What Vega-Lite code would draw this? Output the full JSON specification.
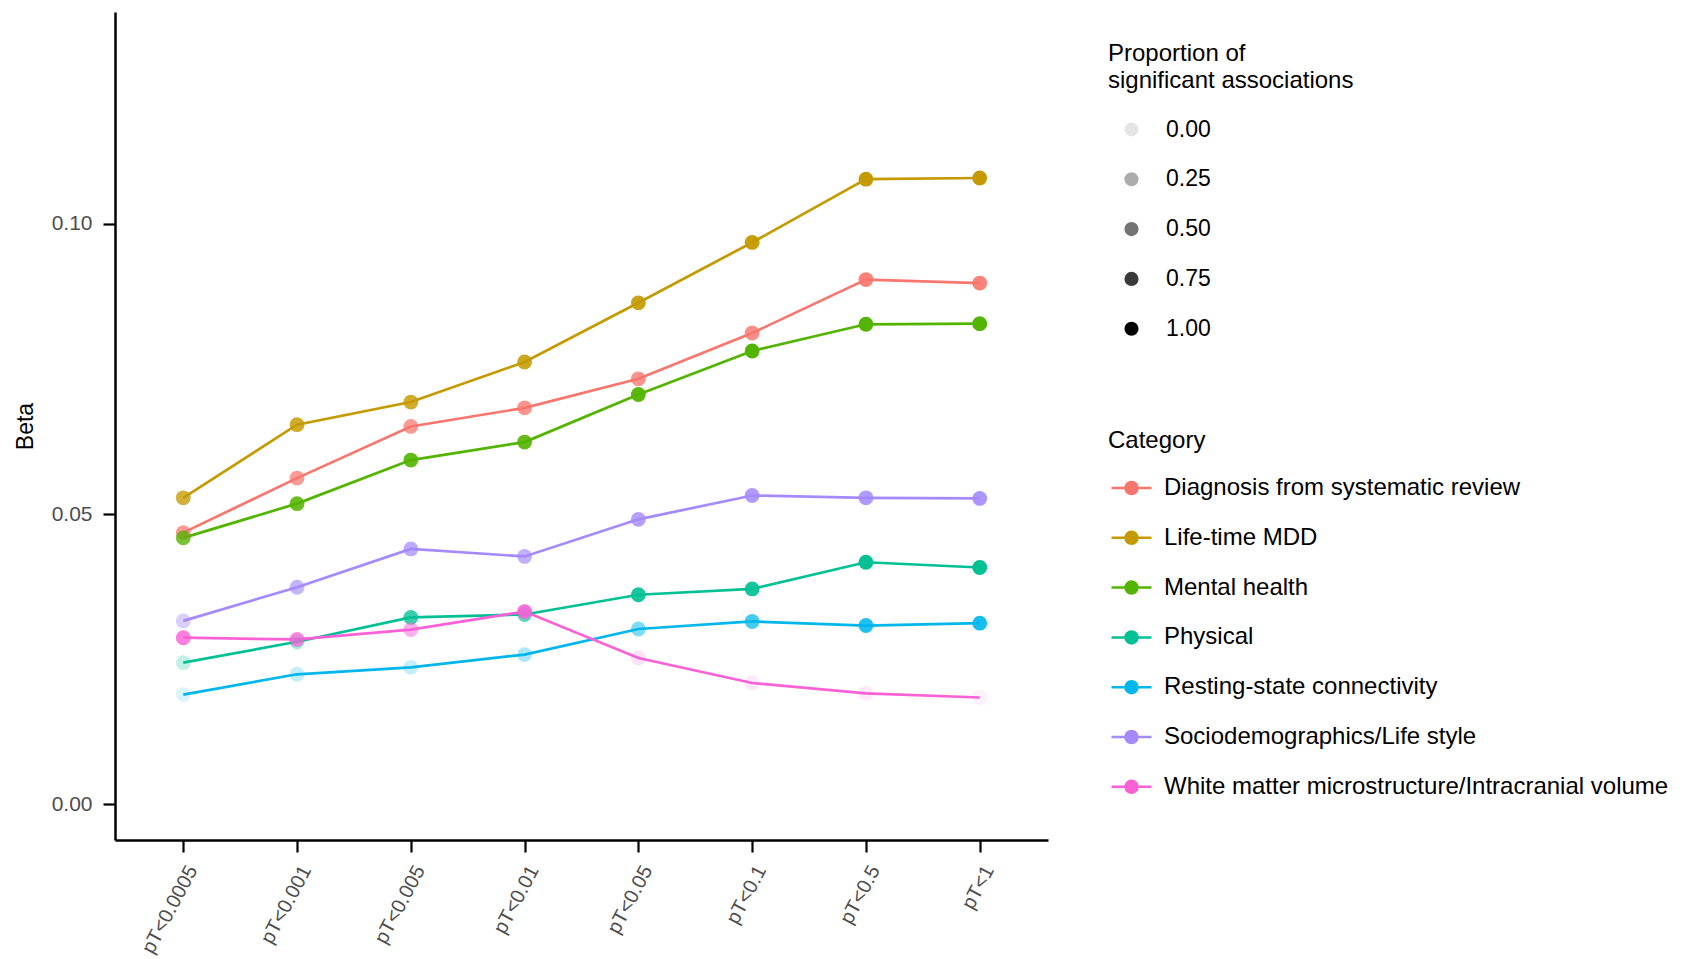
{
  "$schema": "https://vega.github.io/schema/vega-lite/v6.json",
  "autosize": {"type": "none"},
  "padding": {"left": 115, "top": 12, "right": 638, "bottom": 119},
  "width": 933,
  "height": 828,
  "background": "white",
  "config": {
    "view": {"stroke": null},
    "font": "Liberation Sans",
    "axis": {
      "grid": false,
      "domainColor": "black",
      "domainWidth": 2.5,
      "tickColor": "black",
      "tickWidth": 2.2,
      "tickSize": 12,
      "labelColor": "#4d4d4d",
      "labelFont": "Liberation Sans",
      "titleFont": "Liberation Sans",
      "titleFontWeight": "normal",
      "titleColor": "black"
    },
    "legend": {
      "padding": 0,
      "labelFont": "Liberation Sans",
      "titleFont": "Liberation Sans",
      "titleFontWeight": "normal",
      "titleColor": "black",
      "labelColor": "black",
      "labelFontSize": 24,
      "titleFontSize": 24,
      "labelLimit": 700,
      "titleLimit": 700
    }
  },
  "data": {
    "values": [
      {"pT": "pT<0.0005", "cat": "Diagnosis from systematic review", "beta": 0.0468, "prop": 0.7},
      {"pT": "pT<0.001", "cat": "Diagnosis from systematic review", "beta": 0.0562, "prop": 0.7},
      {"pT": "pT<0.005", "cat": "Diagnosis from systematic review", "beta": 0.0651, "prop": 0.7},
      {"pT": "pT<0.01", "cat": "Diagnosis from systematic review", "beta": 0.0683, "prop": 0.75},
      {"pT": "pT<0.05", "cat": "Diagnosis from systematic review", "beta": 0.0733, "prop": 0.75},
      {"pT": "pT<0.1", "cat": "Diagnosis from systematic review", "beta": 0.0812, "prop": 0.8},
      {"pT": "pT<0.5", "cat": "Diagnosis from systematic review", "beta": 0.0904, "prop": 0.9},
      {"pT": "pT<1", "cat": "Diagnosis from systematic review", "beta": 0.0898, "prop": 0.9},

      {"pT": "pT<0.0005", "cat": "Life-time MDD", "beta": 0.0528, "prop": 0.75},
      {"pT": "pT<0.001", "cat": "Life-time MDD", "beta": 0.0654, "prop": 0.8},
      {"pT": "pT<0.005", "cat": "Life-time MDD", "beta": 0.0693, "prop": 0.8},
      {"pT": "pT<0.01", "cat": "Life-time MDD", "beta": 0.0762, "prop": 0.85},
      {"pT": "pT<0.05", "cat": "Life-time MDD", "beta": 0.0864, "prop": 0.9},
      {"pT": "pT<0.1", "cat": "Life-time MDD", "beta": 0.0968, "prop": 0.95},
      {"pT": "pT<0.5", "cat": "Life-time MDD", "beta": 0.1077, "prop": 1.0},
      {"pT": "pT<1", "cat": "Life-time MDD", "beta": 0.1079, "prop": 1.0},

      {"pT": "pT<0.0005", "cat": "Mental health", "beta": 0.0459, "prop": 0.75},
      {"pT": "pT<0.001", "cat": "Mental health", "beta": 0.0518, "prop": 0.85},
      {"pT": "pT<0.005", "cat": "Mental health", "beta": 0.0593, "prop": 0.9},
      {"pT": "pT<0.01", "cat": "Mental health", "beta": 0.0624, "prop": 0.9},
      {"pT": "pT<0.05", "cat": "Mental health", "beta": 0.0706, "prop": 0.95},
      {"pT": "pT<0.1", "cat": "Mental health", "beta": 0.0781, "prop": 1.0},
      {"pT": "pT<0.5", "cat": "Mental health", "beta": 0.0827, "prop": 1.0},
      {"pT": "pT<1", "cat": "Mental health", "beta": 0.0828, "prop": 1.0},

      {"pT": "pT<0.0005", "cat": "Physical", "beta": 0.0244, "prop": 0.15},
      {"pT": "pT<0.001", "cat": "Physical", "beta": 0.0280, "prop": 0.3},
      {"pT": "pT<0.005", "cat": "Physical", "beta": 0.0322, "prop": 0.75},
      {"pT": "pT<0.01", "cat": "Physical", "beta": 0.0327, "prop": 0.6},
      {"pT": "pT<0.05", "cat": "Physical", "beta": 0.0361, "prop": 0.9},
      {"pT": "pT<0.1", "cat": "Physical", "beta": 0.0371, "prop": 0.9},
      {"pT": "pT<0.5", "cat": "Physical", "beta": 0.0417, "prop": 1.0},
      {"pT": "pT<1", "cat": "Physical", "beta": 0.0408, "prop": 1.0},

      {"pT": "pT<0.0005", "cat": "Resting-state connectivity", "beta": 0.0189, "prop": 0.05},
      {"pT": "pT<0.001", "cat": "Resting-state connectivity", "beta": 0.0224, "prop": 0.15},
      {"pT": "pT<0.005", "cat": "Resting-state connectivity", "beta": 0.0236, "prop": 0.15},
      {"pT": "pT<0.01", "cat": "Resting-state connectivity", "beta": 0.0258, "prop": 0.25},
      {"pT": "pT<0.05", "cat": "Resting-state connectivity", "beta": 0.0302, "prop": 0.45},
      {"pT": "pT<0.1", "cat": "Resting-state connectivity", "beta": 0.0315, "prop": 0.7},
      {"pT": "pT<0.5", "cat": "Resting-state connectivity", "beta": 0.0308, "prop": 0.85},
      {"pT": "pT<1", "cat": "Resting-state connectivity", "beta": 0.0312, "prop": 0.9},

      {"pT": "pT<0.0005", "cat": "Sociodemographics/Life style", "beta": 0.0316, "prop": 0.35},
      {"pT": "pT<0.001", "cat": "Sociodemographics/Life style", "beta": 0.0374, "prop": 0.6},
      {"pT": "pT<0.005", "cat": "Sociodemographics/Life style", "beta": 0.0440, "prop": 0.7},
      {"pT": "pT<0.01", "cat": "Sociodemographics/Life style", "beta": 0.0427, "prop": 0.65},
      {"pT": "pT<0.05", "cat": "Sociodemographics/Life style", "beta": 0.0491, "prop": 0.8},
      {"pT": "pT<0.1", "cat": "Sociodemographics/Life style", "beta": 0.0532, "prop": 0.85},
      {"pT": "pT<0.5", "cat": "Sociodemographics/Life style", "beta": 0.0528, "prop": 0.85},
      {"pT": "pT<1", "cat": "Sociodemographics/Life style", "beta": 0.0527, "prop": 0.9},

      {"pT": "pT<0.0005", "cat": "White matter microstructure/Intracranial volume", "beta": 0.0287, "prop": 0.8},
      {"pT": "pT<0.001", "cat": "White matter microstructure/Intracranial volume", "beta": 0.0284, "prop": 0.7},
      {"pT": "pT<0.005", "cat": "White matter microstructure/Intracranial volume", "beta": 0.0301, "prop": 0.45},
      {"pT": "pT<0.01", "cat": "White matter microstructure/Intracranial volume", "beta": 0.0332, "prop": 0.9},
      {"pT": "pT<0.05", "cat": "White matter microstructure/Intracranial volume", "beta": 0.0252, "prop": 0.1},
      {"pT": "pT<0.1", "cat": "White matter microstructure/Intracranial volume", "beta": 0.0209, "prop": 0.05},
      {"pT": "pT<0.5", "cat": "White matter microstructure/Intracranial volume", "beta": 0.0191, "prop": 0.05},
      {"pT": "pT<1", "cat": "White matter microstructure/Intracranial volume", "beta": 0.0184, "prop": 0.0}
    ]
  },
  "encoding": {
    "x": {
      "field": "pT",
      "type": "ordinal",
      "sort": ["pT<0.0005", "pT<0.001", "pT<0.005", "pT<0.01", "pT<0.05", "pT<0.1", "pT<0.5", "pT<1"],
      "scale": {"type": "point", "padding": 0.6},
      "axis": {
        "title": null,
        "labelAngle": -62,
        "labelAlign": "right",
        "labelBaseline": "top",
        "labelFontSize": 20,
        "labelPadding": 10
      }
    },
    "y": {
      "field": "beta",
      "type": "quantitative",
      "scale": {"domain": [-0.00615, 0.1365], "nice": false, "zero": false},
      "axis": {
        "title": "Beta",
        "values": [0, 0.05, 0.1],
        "format": ".2f",
        "labelFontSize": 21,
        "labelPadding": 11,
        "titleFontSize": 23,
        "titlePadding": 14
      }
    },
    "color": {
      "field": "cat",
      "type": "nominal",
      "scale": {
        "domain": [
          "Diagnosis from systematic review",
          "Life-time MDD",
          "Mental health",
          "Physical",
          "Resting-state connectivity",
          "Sociodemographics/Life style",
          "White matter microstructure/Intracranial volume"
        ],
        "range": ["#F8766D", "#C49A00", "#53B400", "#00C094", "#00B6EB", "#A58AFF", "#FB61D7"]
      },
      "legend": {
        "title": "Category",
        "orient": "none",
        "direction": "vertical",
        "legendX": 993,
        "legendY": 417,
        "symbolType": "M-1,0H1M-0.3,0A0.3,0.3 0 1,1 0.3,0A0.3,0.3 0 1,1 -0.3,0Z",
        "symbolSize": 1600,
        "symbolStrokeWidth": 2.5,
        "symbolOffset": 2,
        "labelOffset": 11,
        "rowPadding": 15.8,
        "titlePadding": 13.5,
        "encode": {
          "symbols": {
            "update": {
              "fill": {"scale": "color", "field": "value"},
              "stroke": {"scale": "color", "field": "value"},
              "opacity": {"value": 1},
              "fillOpacity": {"value": 1},
              "strokeOpacity": {"value": 1}
            }
          }
        }
      }
    }
  },
  "layer": [
    {"mark": {"type": "line", "strokeWidth": 2.7}},
    {
      "mark": {"type": "point", "filled": true, "size": 220},
      "encoding": {
        "opacity": {
          "field": "prop",
          "type": "quantitative",
          "scale": {"domain": [0, 1], "range": [0.1, 1]},
          "legend": {
            "title": ["Proportion of", "significant associations"],
            "orient": "none",
            "direction": "vertical",
            "legendX": 993,
            "legendY": 30,
            "values": [0, 0.25, 0.5, 0.75, 1],
            "format": ".2f",
            "symbolType": "circle",
            "symbolSize": 200,
            "symbolFillColor": "black",
            "symbolStrokeWidth": 0,
            "symbolOffset": 12,
            "labelOffset": 23,
            "rowPadding": 25.8,
            "titlePadding": 25,
            "titleLineHeight": 27,
            "labelFontSize": 23,
            "encode": {
              "symbols": {
                "update": {
                  "fill": {"value": "black"},
                  "stroke": {"value": "transparent"},
                  "size": {"value": 200},
                  "fillOpacity": {"value": 1},
                  "opacity": {"scale": "opacity", "field": "value"}
                }
              }
            }
          }
        }
      }
    }
  ]
}
